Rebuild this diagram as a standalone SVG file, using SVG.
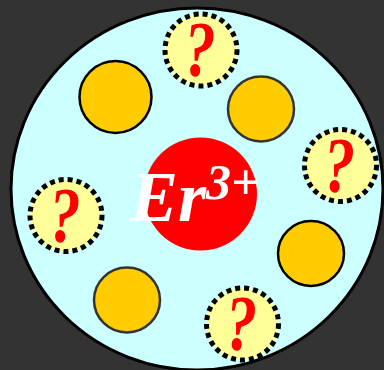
<svg xmlns="http://www.w3.org/2000/svg" width="384" height="370" viewBox="0 0 384 370">
<style>
.gold{fill:#ffcc00;stroke-width:2.5}
.unk{fill:#ffff99;stroke:#000;stroke-width:5;stroke-dasharray:5 4}
.q{font-family:"Liberation Serif",serif;font-weight:bold;font-style:italic;font-size:78px;fill:#ff0000;text-anchor:middle}
</style>
<rect width="384" height="370" fill="#333333"/>
<g id="cavity"><ellipse cx="197" cy="189" rx="186" ry="181" fill="#ccffff" stroke="#000" stroke-width="3"/></g>
<g id="gold1"><circle class="gold" cx="115.5" cy="97" r="36" stroke="#000"/></g>
<g id="gold2"><ellipse class="gold" cx="261" cy="109" rx="33" ry="32.5" stroke="#333"/></g>
<g id="gold3"><ellipse class="gold" cx="311" cy="253.5" rx="33" ry="32.5" stroke="#000"/></g>
<g id="gold4"><ellipse class="gold" cx="127" cy="300" rx="33" ry="32.5" stroke="#333"/></g>
<g id="unk1"><circle class="unk" cx="201" cy="50" r="36"/><text class="q" transform="translate(200,75) scale(0.8,1)">?</text></g>
<g id="unk2"><circle class="unk" cx="340.5" cy="165.5" r="36"/><text class="q" transform="translate(339.5,191) scale(0.8,1)">?</text></g>
<g id="unk3"><circle class="unk" cx="66" cy="215.5" r="36"/><text class="q" transform="translate(65,241) scale(0.8,1)">?</text></g>
<g id="unk4"><circle class="unk" cx="242.5" cy="324" r="36"/><text class="q" transform="translate(241.5,349) scale(0.8,1)">?</text></g>
<g id="er"><circle cx="200.5" cy="194" r="56.5" fill="#ff0000"/>
<text x="130" y="221" font-family="Liberation Serif,serif" font-weight="bold" font-style="italic" font-size="72" fill="#fff">Er<tspan dy="-22" font-size="50">3+</tspan></text></g>
</svg>
